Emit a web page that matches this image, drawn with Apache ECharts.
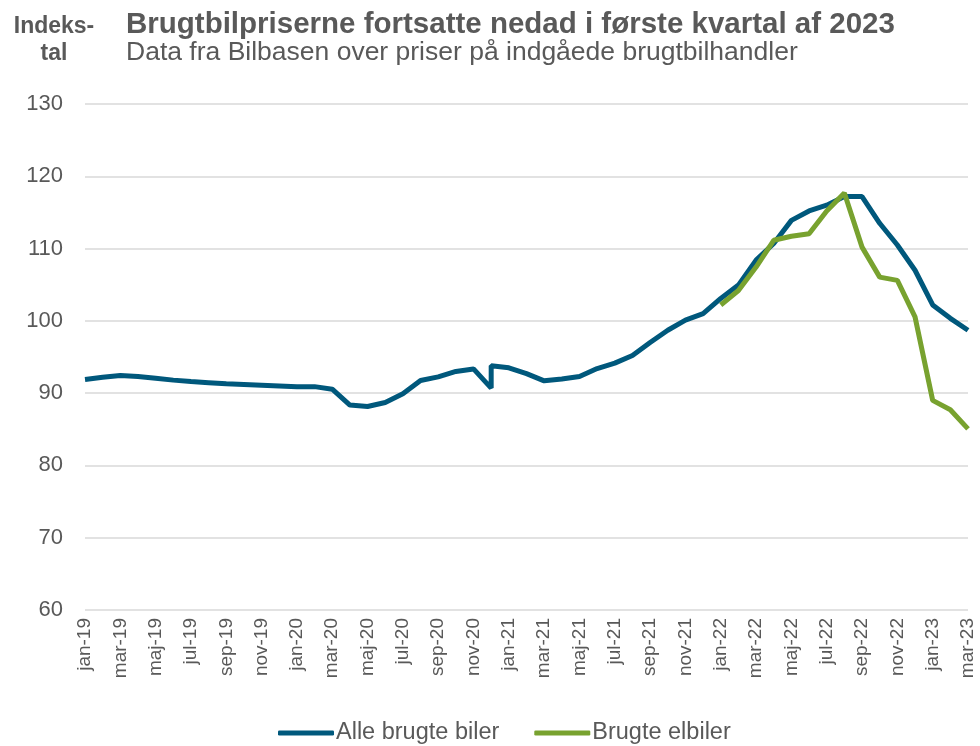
<!DOCTYPE html>
<html>
<head>
<meta charset="utf-8">
<script src="https://cdn.jsdelivr.net/npm/echarts@6/dist/echarts.min.js"></script>
<style>
    html, body { margin: 0; padding: 0; background: #fff; }
    #chart { width: 980px; height: 746px; }
</style>
</head>
<body>
<div id="chart"></div>
<script>
    // maaneder, jan-19 .. mar-23
    var maaneder = ['jan-19','feb-19','mar-19','apr-19','maj-19','jun-19','jul-19','aug-19','sep-19','okt-19','nov-19','dec-19',
        'jan-20','feb-20','mar-20','apr-20','maj-20','jun-20','jul-20','aug-20','sep-20','okt-20','nov-20','dec-20',
        'jan-21','feb-21','mar-21','apr-21','maj-21','jun-21','jul-21','aug-21','sep-21','okt-21','nov-21','dec-21',
        'jan-22','feb-22','mar-22','apr-22','maj-22','jun-22','jul-22','aug-22','sep-22','okt-22','nov-22','dec-22',
        'jan-23','feb-23','mar-23'];

    var alleBiler = [91.9, 92.2, 92.45, 92.3, 92.05, 91.8, 91.6, 91.45, 91.3, 91.2, 91.1, 91.0,
        90.9, 90.9, 90.55, 88.35, 88.15, 88.7, 89.9, 91.75, 92.25, 93.0, 93.35, 93.8,
        93.5, 92.7, 91.7, 91.95, 92.3, 93.4, 94.15, 95.2, 97.0, 98.7, 100.1, 101.0,
        103.1, 104.95, 108.4, 110.7, 113.9, 115.2, 116.0, 117.2, 117.2, 113.5, 110.5, 107.0,
        102.2, 100.35, 98.7];
    // brud i serien i dec-20 (vaerdi foer omlaegning)
    var brudMaaned = 23;
    var brudVaerdi = 90.7;

    var elbiler = [null, null, null, null, null, null, null, null, null, null, null, null,
        null, null, null, null, null, null, null, null, null, null, null, null,
        null, null, null, null, null, null, null, null, null, null, null, null,
        102.2, 104.2, 107.45, 111.15, 111.7, 112.05, 115.2, 117.7, 110.2, 106.05, 105.6, 100.55,
        89.0, 87.7, 85.05];

    var yTicks = [60, 70, 80, 90, 100, 110, 120, 130];

    var alleData = [];
    alleBiler.forEach(function (v, i) {
        if (i === brudMaaned) alleData.push([i, brudVaerdi]);
        alleData.push([i, v]);
    });
    var elData = [];
    elbiler.forEach(function (v, i) {
        if (v !== null) elData.push([i, v]);
    });

    var font = '"Liberation Sans", Arial, sans-serif';
    var myChart = echarts.init(document.getElementById('chart'));
    var option = {
        animation: false,
        title: [
            {
                text: 'Brugtbilpriserne fortsatte nedad i første kvartal af 2023',
                left: 121, top: 5,
                textStyle: { fontFamily: font, fontSize: 29.5, fontWeight: 'bold', color: '#595959' }
            },
            {
                text: 'Data fra Bilbasen over priser på indgåede brugtbilhandler',
                left: 121, top: 34,
                textStyle: { fontFamily: font, fontSize: 26.5, fontWeight: 'normal', color: '#595959' }
            },
            {
                text: 'Indeks-\ntal',
                left: 49, top: 8, textAlign: 'center',
                textStyle: { fontFamily: font, fontSize: 23, fontWeight: 'bold', color: '#595959', lineHeight: 27, align: 'center' }
            }
        ],
        legend: {
            top: 716,
            left: 273,
            itemWidth: 56,
            itemHeight: 5,
            itemGap: 35,
            icon: 'roundRect',
            textStyle: { fontFamily: font, fontSize: 23.5, color: '#595959', padding: [0, 0, 0, -3] },
            data: ['Alle brugte biler', 'Brugte elbiler']
        },
        grid: { left: 85, right: 12, top: 104, bottom: 136 },
        xAxis: {
            type: 'value',
            min: 0,
            max: maaneder.length - 1,
            interval: 2,
            axisLine: { show: false },
            axisTick: { show: false },
            splitLine: { show: false },
            axisLabel: {
                rotate: 90,
                margin: 8,
                fontFamily: font,
                fontSize: 19,
                color: '#595959',
                formatter: function (v) { return maaneder[v] || ''; }
            }
        },
        yAxis: {
            type: 'value',
            min: yTicks[0],
            max: yTicks[yTicks.length - 1],
            interval: 10,
            axisLine: { show: false },
            axisTick: { show: false },
            splitLine: { lineStyle: { color: '#d9d9d9', width: 1.5 } },
            axisLabel: { margin: 22, fontFamily: font, fontSize: 22, color: '#595959' }
        },
        series: [
            {
                name: 'Alle brugte biler',
                type: 'line',
                symbol: 'none',
                color: '#00587c',
                lineStyle: { width: 5, color: '#00587c' },
                data: alleData
            },
            {
                name: 'Brugte elbiler',
                type: 'line',
                symbol: 'none',
                color: '#78a22f',
                lineStyle: { width: 5, color: '#78a22f' },
                data: elData
            }
        ]
    };
    myChart.setOption(option);
</script>
</body>
</html>
